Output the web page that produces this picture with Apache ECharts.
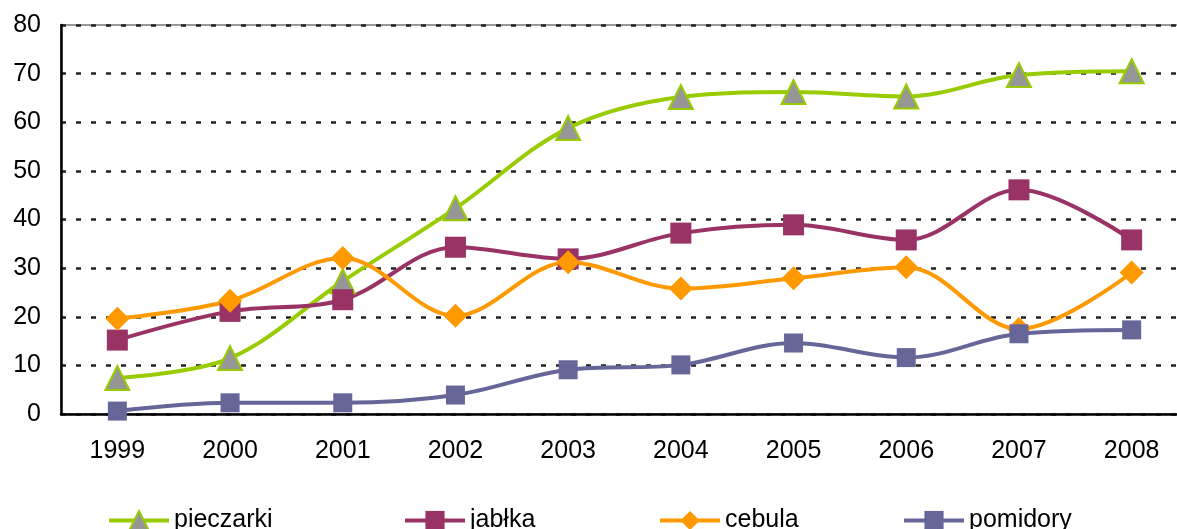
<!DOCTYPE html>
<html>
<head>
<meta charset="utf-8">
<script src="https://cdn.jsdelivr.net/npm/echarts@6/dist/echarts.min.js"></script>
<style>
  html, body { margin: 0; padding: 0; background: #fff; overflow: hidden; }
  #main { width: 1189px; height: 529px; }
</style>
</head>
<body>
<div id="main"></div>
<script>
var years = ['1999', '2000', '2001', '2002', '2003', '2004', '2005', '2006', '2007', '2008'];
var pieczarki = [7.4, 11.5, 27.3, 42.3, 58.8, 65.2, 66.2, 65.3, 69.7, 70.5];
var jablka = [15.2, 21.1, 23.5, 34.3, 31.9, 37.2, 38.9, 35.8, 46.1, 35.8];
var cebula = [19.6, 23.3, 32.1, 20.2, 31.2, 25.8, 27.9, 30.2, 17.5, 29.1];
var pomidory = [0.6, 2.3, 2.3, 3.9, 9.1, 10.1, 14.6, 11.6, 16.5, 17.3];
var yTicks = [0, 10, 20, 30, 40, 50, 60, 70, 80];

var font = 'Liberation Sans, Arial, sans-serif';

// chart is a bit wider than the window, plot area runs off the right edge like the original
var myChart = echarts.init(document.getElementById('main'));

// one legend per item so each can sit where the original puts it
var legendPos = [102, 398, 653, 897];
var names = ['pieczarki', 'jabłka', 'cebula', 'pomidory'];
var legends = names.map(function(n, i) {
    return {
        data: [n],
        left: legendPos[i],
        top: 503,
        itemWidth: 60,
        itemHeight: 24,
        itemGap: 5,
        selectedMode: false,
        lineStyle: { width: 4 },
        textStyle: { fontFamily: font, fontSize: 25, color: '#000' }
    };
});

function mkSeries(name, data, color, symbol, size, fill) {
    return {
        name: name,
        type: 'line',
        data: data,
        smooth: 0.35,
        symbol: symbol,
        symbolSize: size,
        showAllSymbol: true,
        lineStyle: { color: color, width: 4 },
        itemStyle: {
            color: fill || color,
            borderColor: color,
            borderWidth: fill ? 2 : 0
        },
        z: 3
    };
}

var option = {
    animation: false,
    backgroundColor: '#fff',
    grid: {
        left: 61,
        top: 25,
        right: 1,
        bottom: 115,
        show: true,
        borderColor: '#999',
        borderWidth: 2
    },
    legend: legends,
    xAxis: {
        type: 'category',
        data: years,
        boundaryGap: true,
        axisLine: { lineStyle: { color: '#000', width: 2.5 } },
        axisTick: { show: false },
        axisLabel: { fontFamily: font, fontSize: 25, color: '#000', margin: 25 }
    },
    yAxis: {
        type: 'value',
        min: yTicks[0],
        max: yTicks[yTicks.length - 1],
        interval: 10,
        axisLine: { show: true, lineStyle: { color: '#000', width: 2.5 } },
        axisTick: { show: false },
        axisLabel: { fontFamily: font, fontSize: 25, color: '#000', margin: 20 },
        splitLine: {
            lineStyle: { color: '#222', width: 2.5, type: [5, 10] }
        }
    },
    series: [
        mkSeries('pieczarki', pieczarki, '#99CC00', 'triangle', 24, '#969696'),
        mkSeries('jabłka', jablka, '#993366', 'rect', 21),
        mkSeries('cebula', cebula, '#FF9900', 'diamond', 24),
        mkSeries('pomidory', pomidory, '#666699', 'rect', 19)
    ]
};

myChart.setOption(option);
</script>
</body>
</html>
